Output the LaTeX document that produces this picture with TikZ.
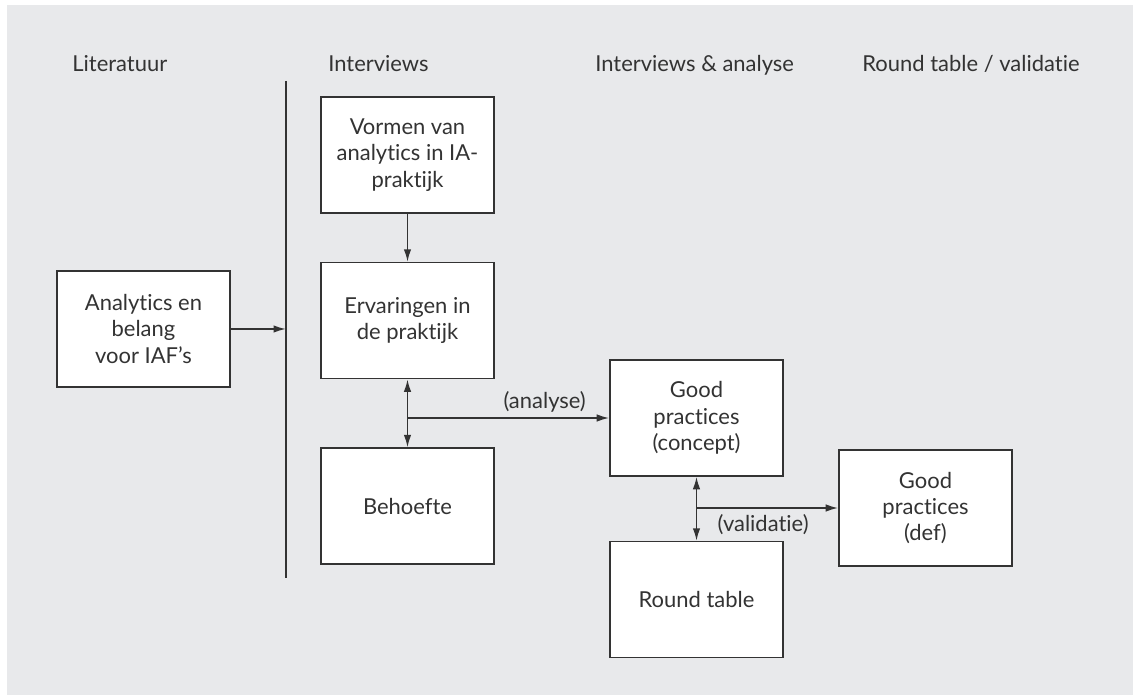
\documentclass[tikz,border=0pt]{standalone}
\usepackage{fontspec}
\setmainfont{Lato}[Ligatures=NoCommon]
\usetikzlibrary{arrows.meta,positioning}
\definecolor{panelgray}{HTML}{E8E9EB}
\definecolor{inkgray}{HTML}{333333}
\tikzset{
  stepbox/.style = {draw=inkgray, fill=white, line width=0.9pt, minimum width=3.46cm, minimum height=2.32cm, align=center, text=inkgray, inner sep=2pt, font=\fontsize{12.5}{15}\selectfont},
  header/.style = {text=inkgray, anchor=base west, inner sep=0pt, font=\fontsize{12.5}{15}\selectfont},
  flow/.style = {inkgray, line width=0.9pt, -{Latex[length=2.5mm,width=1.5mm]}},
  twoway/.style = {inkgray, line width=0.9pt, {Latex[length=2.5mm,width=1.5mm]}-{Latex[length=2.5mm,width=1.5mm]}},
  steplabel/.style = {text=inkgray, font=\fontsize{12.5}{15}\selectfont},
}

\begin{document}
\begin{tikzpicture}[x=0.02cm,y=-0.02cm]
      \useasboundingbox (0,0) rectangle (1133,695);
      \fill[panelgray] (7,5) rectangle (1133,695);

      % kolomkoppen
      \node[header] (hlit) at (72,72) {Literatuur};
      \node[header] (hint) at (328,72) {Interviews};
      \node[header] (hana) at (595,72) {Interviews \& analyse};
      \node[header] (hval) at (862,72) {Round table / validatie};

      \node[stepbox] (lit) at (143.5,329) {Analytics en\\belang\\voor IAF’s};
      \node[stepbox] (vorm) at (407.5,155) {Vormen van\\analytics in IA-\\praktijk};
      \node[stepbox, below=0.96cm of vorm] (erv) {Ervaringen in\\de praktijk};
      \node[stepbox, below=1.36cm of erv] (beh) {Behoefte};
      \node[stepbox] (gpc) at (696.5,418) {Good\\practices\\(concept)};
      \node[stepbox, below=1.28cm of gpc] (rt) {Round table};
      \node[stepbox] (gpd) at (925.5,508) {Good\\practices\\(def)};

      \coordinate (septop) at (286,81);
      \coordinate (sepbot) at (286,578);
      \draw[inkgray, line width=0.9pt] (septop) -- (sepbot);

      \path (lit.east) edge[flow] (lit.east -| septop);
      \path (vorm) edge[flow] (erv);
      \path (erv) edge[twoway] (beh);
      \draw[flow] (erv.south |- gpc.west) -- node[steplabel, above, pos=0.68, inner sep=3pt] {(analyse)} (gpc.west);
      \path (gpc) edge[twoway] (rt);
      \draw[flow] (gpc.south |- gpd.west) -- node[steplabel, below, pos=0.47, inner sep=3pt] {(validatie)} (gpd.west);
\end{tikzpicture}
\end{document}
